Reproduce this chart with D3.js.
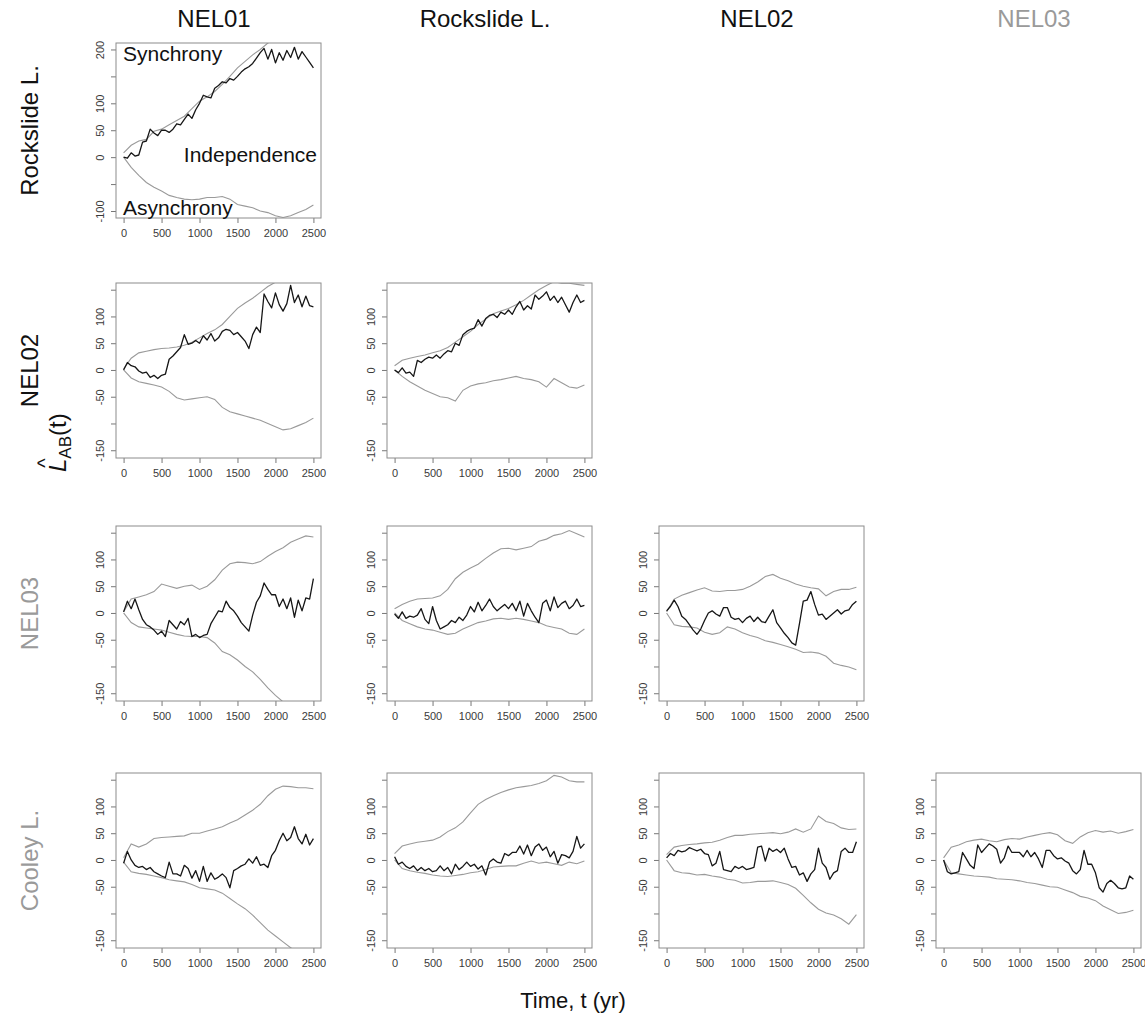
<!DOCTYPE html>
<html><head><meta charset="utf-8">
<script src="https://cdn.jsdelivr.net/npm/d3@7/dist/d3.min.js"></script>
<style>
body{margin:0;background:#fff}
svg{display:block}
text{font-family:"Liberation Sans",Arial,Helvetica,sans-serif}
</style>
</head><body>
<svg id="chart" width="1145" height="1018"></svg>
<script>
// ---------- categories ----------
const colNames = ["NEL01", "Rockslide L.", "NEL02", "NEL03"];
const rowNames = ["Rockslide L.", "NEL02", "NEL03", "Cooley L."];
const colGrey = [false, false, false, true];
const rowGrey = [false, false, true, true];

// ---------- time grids (yr) ----------
const tObs = [0,50,100,150,200,250,300,350,400,450,500,550,600,650,700,750,800,850,900,950,
  1000,1050,1100,1150,1200,1250,1300,1350,1400,1450,1500,1550,1600,1650,1700,1750,1800,1850,1900,1950,
  2000,2050,2100,2150,2200,2250,2300,2350,2400,2450,2500];
const tEnv = [0,100,200,300,400,500,600,700,800,900,1000,1100,1200,1300,1400,1500,1600,1700,1800,1900,
  2000,2100,2200,2300,2400,2500];

// ---------- ticks ----------
const xTicks = [0, 500, 1000, 1500, 2000, 2500];
const yTicksTop = [-100, -50, 0, 50, 100, 150, 200];
const yLabelsTop = [-100, 0, 50, 100, 200];
const yTicks = [-150, -100, -50, 0, 50, 100, 150];
const yLabels = [-150, -50, 0, 50, 100];

// ---------- series: observed L_AB(t) (black) and envelope (grey) ----------
// Row "Rockslide L." x col "NEL01"
const obs_RL_N1 = [0,-2,8,2,4,28,30,52,45,40,50,50,46,52,62,60,70,80,72,88,100,115,112,110,128,133,140,138,146,143,150,158,164,168,174,184,194,202,182,200,175,194,180,198,185,204,182,196,186,176,166];
const up_RL_N1  = [8,22,30,33,48,52,60,68,76,90,104,112,122,135,150,166,178,190,200,212,218,222,225,228,230,232];
const lo_RL_N1  = [0,-19,-34,-47,-56,-63,-71,-75,-78,-79,-78,-75,-75,-73,-78,-88,-91,-94,-100,-103,-109,-112,-109,-103,-97,-89];
// Row "NEL02" x col "NEL01"
const obs_N2_N1 = [0,14,8,6,-2,-6,-4,-14,-10,-16,-10,-8,20,26,34,42,66,48,50,55,50,64,56,68,54,60,72,76,74,66,70,62,54,40,66,80,70,142,128,116,144,122,110,124,158,126,140,118,138,120,118];
const up_N2_N1  = [2,22,32,35,38,40,41,43,46,52,60,68,75,85,100,115,125,134,145,156,164,168,170,172,172,170];
const lo_N2_N1  = [0,-15,-22,-25,-28,-32,-40,-52,-56,-54,-52,-50,-55,-70,-78,-82,-86,-90,-94,-100,-106,-112,-110,-104,-98,-90];
// Row "NEL02" x col "Rockslide L."
const obs_N2_RL = [0,-5,4,-6,-4,-12,18,14,20,24,22,28,22,30,36,34,50,46,66,72,76,78,94,82,96,102,104,98,108,104,112,104,118,128,112,120,114,140,132,138,146,130,138,126,136,122,108,126,140,126,130];
const up_N2_RL  = [8,18,22,25,28,32,36,42,52,62,72,85,95,105,110,115,122,130,140,150,158,165,162,162,160,158];
const lo_N2_RL  = [0,-12,-22,-30,-38,-44,-50,-52,-58,-38,-30,-26,-24,-20,-18,-15,-12,-16,-18,-22,-32,-16,-24,-32,-34,-28];
// Row "NEL03" x col "NEL01"
const obs_N3_N1 = [2,22,8,26,6,-12,-22,-26,-32,-40,-34,-44,-14,-22,-30,-16,-22,-10,-44,-40,-46,-42,-40,-20,-8,4,2,22,10,4,-6,-18,-26,-34,-4,20,32,56,44,34,34,12,26,8,28,-8,24,4,28,26,64];
const up_N3_N1  = [2,26,30,34,40,54,50,46,50,52,44,50,62,80,92,95,94,92,96,106,115,122,132,138,144,142];
const lo_N3_N1  = [0,-18,-26,-28,-30,-32,-36,-40,-43,-44,-44,-46,-56,-72,-78,-88,-100,-110,-124,-140,-154,-166,-176,-184,-190,-194];
// Row "NEL03" x col "Rockslide L."
const obs_N3_RL = [-2,-10,2,-10,-6,-8,-4,8,-12,-20,12,-14,-30,-26,-22,-14,-18,-8,-14,-4,12,2,20,4,14,26,12,4,10,16,8,18,4,22,-6,18,4,-8,-18,18,24,4,30,10,18,22,8,14,26,12,14];
const up_N3_RL  = [8,16,22,26,27,28,32,44,64,76,84,91,102,112,120,121,118,121,124,134,138,145,148,154,148,142];
const lo_N3_RL  = [0,-14,-20,-26,-30,-32,-36,-40,-38,-30,-24,-18,-15,-11,-10,-12,-10,-12,-15,-18,-24,-27,-30,-38,-40,-30];
// Row "NEL03" x col "NEL02"
const obs_N3_N2 = [4,12,24,12,-6,-12,-22,-32,-40,-30,-14,0,4,-2,-6,10,10,-8,-12,-10,-18,-10,-6,-16,-8,-16,-18,-6,6,-18,-28,-38,-46,-56,-60,-20,22,24,40,16,-4,-2,-12,-6,0,6,-2,4,6,16,22];
const up_N3_N2  = [2,26,33,38,43,47,41,40,42,42,44,50,58,68,72,65,60,54,50,47,45,32,40,44,44,48];
const lo_N3_N2  = [0,-22,-25,-26,-28,-36,-40,-37,-26,-30,-37,-42,-46,-52,-55,-59,-63,-68,-74,-73,-75,-81,-94,-98,-101,-106];
// Row "Cooley L." x col "NEL01"
const obs_CL_N1 = [-6,16,0,-10,-14,-12,-18,-14,-22,-26,-30,-33,-4,-26,-26,-30,-10,-16,-34,-20,-40,-12,-40,-24,-36,-32,-26,-33,-52,-20,-16,-11,-8,2,-6,6,-10,-8,-14,8,18,36,50,36,42,62,40,30,48,28,40];
const up_CL_N1  = [4,30,24,30,40,42,43,44,45,50,50,54,58,62,69,75,84,93,104,120,132,138,137,135,135,133];
const lo_CL_N1  = [-4,-22,-25,-27,-30,-33,-37,-39,-41,-46,-52,-54,-56,-62,-72,-82,-91,-103,-117,-131,-142,-153,-164,-172,-178,-182];
// Row "Cooley L." x col "Rockslide L."
const obs_CL_RL = [6,-8,-4,-12,-16,-11,-20,-14,-20,-16,-22,-20,-11,-20,-14,-26,-8,-18,-12,-4,-12,-8,-17,-11,-28,-4,2,-4,-6,12,8,14,14,26,11,28,8,24,30,18,24,6,16,-6,10,8,4,16,44,22,30];
const up_CL_RL  = [12,26,30,33,35,37,43,53,60,71,88,104,113,120,126,131,135,137,139,143,148,158,155,148,146,146];
const lo_CL_RL  = [0,-16,-20,-23,-25,-28,-30,-31,-29,-27,-24,-22,-18,-13,-12,-11,-11,-6,-2,-6,-4,-7,-10,-4,-7,-2];
// Row "Cooley L." x col "NEL02"
const obs_CL_N2 = [4,12,8,18,15,17,23,20,17,20,12,10,-11,-6,16,-18,-20,-22,-12,-16,-12,-18,-16,-14,24,26,-2,22,16,20,14,22,2,-14,-12,-28,-24,-40,-26,-18,22,-6,-14,-36,-24,-20,16,22,14,14,34];
const up_CL_N2  = [10,24,27,29,30,32,33,37,42,46,46,48,49,50,51,49,52,58,52,58,82,72,68,60,57,58];
const lo_CL_N2  = [0,-20,-24,-25,-28,-27,-30,-32,-36,-38,-43,-42,-40,-40,-39,-42,-46,-53,-66,-80,-92,-99,-103,-110,-120,-102];
// Row "Cooley L." x col "NEL03"
const obs_CL_N3 = [0,-22,-26,-24,-22,14,2,-10,-16,28,14,22,30,26,20,-6,4,26,14,14,14,6,18,6,14,2,-14,18,18,8,2,4,-2,-6,-20,-26,-18,18,-8,-8,-24,-52,-60,-44,-38,-44,-52,-54,-52,-30,-36];
const up_CL_N3  = [4,24,28,34,37,39,36,34,38,40,39,43,46,49,51,47,36,31,43,51,55,52,54,50,53,57];
const lo_CL_N3  = [0,-24,-26,-28,-30,-31,-32,-35,-36,-37,-39,-42,-44,-47,-50,-51,-56,-61,-68,-71,-76,-86,-93,-100,-98,-94];

// panel table built from the arrays above
const panels = [
  {r:0,c:0,obs:obs_RL_N1,up:up_RL_N1,lo:lo_RL_N1},
  {r:1,c:0,obs:obs_N2_N1,up:up_N2_N1,lo:lo_N2_N1},
  {r:1,c:1,obs:obs_N2_RL,up:up_N2_RL,lo:lo_N2_RL},
  {r:2,c:0,obs:obs_N3_N1,up:up_N3_N1,lo:lo_N3_N1},
  {r:2,c:1,obs:obs_N3_RL,up:up_N3_RL,lo:lo_N3_RL},
  {r:2,c:2,obs:obs_N3_N2,up:up_N3_N2,lo:lo_N3_N2},
  {r:3,c:0,obs:obs_CL_N1,up:up_CL_N1,lo:lo_CL_N1},
  {r:3,c:1,obs:obs_CL_RL,up:up_CL_RL,lo:lo_CL_RL},
  {r:3,c:2,obs:obs_CL_N2,up:up_CL_N2,lo:lo_CL_N2},
  {r:3,c:3,obs:obs_CL_N3,up:up_CL_N3,lo:lo_CL_N3}
];

// ---------- layout ----------
const colLeft = [116, 387, 659, 936];
const rowTop = [43, 283, 526, 773];
const PW = 205, PH = 175;
const xDom = [-100, 2600];
const yDomTop = [-113, 212];
const yDom = [-164.5, 162.5];

const svg = d3.select("#chart");
const BOX = "#8c8c8c", TICK = "#777", LAB = "#3a3a3a", GREYLINE = "#9a9a9a", BLACK = "#161616", GREYTXT = "#9a9a9a";
const FONT = '"Liberation Sans",Arial,sans-serif';

// headers
svg.selectAll("text.colhead").data(colNames).enter().append("text")
  .attr("class","colhead")
  .attr("x",(d,i)=>colLeft[i]+98).attr("y",27)
  .attr("text-anchor","middle").attr("font-size",24)
  .attr("fill",(d,i)=>colGrey[i]?GREYTXT:"#111").text(d=>d);

svg.selectAll("text.rowhead").data(rowNames).enter().append("text")
  .attr("class","rowhead")
  .attr("transform",(d,i)=>`translate(38,${rowTop[i]+PH/2}) rotate(-90)`)
  .attr("text-anchor","middle").attr("font-size",24)
  .attr("fill",(d,i)=>rowGrey[i]?GREYTXT:"#111").text(d=>d);

// y-axis title  L-hat_AB(t)
const yt = svg.append("g").attr("transform","translate(66,432) rotate(-90)");
const ytt = yt.append("text").attr("x",-40).attr("y",0).attr("font-size",24).attr("fill","#111");
ytt.append("tspan").attr("font-style","italic").text("L");
ytt.append("tspan").attr("font-size",17).attr("dy",5).text("AB");
ytt.append("tspan").attr("dy",-5).text("(t)");
yt.append("text").attr("x",-31).attr("y",-14).attr("text-anchor","middle").attr("font-size",20).attr("fill","#111").text("^");

// x-axis title
svg.append("text").attr("x",573).attr("y",1008).attr("text-anchor","middle")
  .attr("font-size",22).attr("fill","#111").text("Time, t (yr)");

const defs = svg.append("defs");

panels.forEach((p,k)=>{
  const L = colLeft[p.c], T = rowTop[p.r];
  const x = d3.scaleLinear().domain(xDom).range([L, L+PW]);
  const y = d3.scaleLinear().domain(p.r===0?yDomTop:yDom).range([T+PH, T]);
  const ticks = p.r===0?yTicksTop:yTicks;
  const shown = p.r===0?yLabelsTop:yLabels;

  defs.append("clipPath").attr("id","clip"+k).append("rect")
    .attr("x",L).attr("y",T).attr("width",PW).attr("height",PH);

  const g = svg.append("g");
  const plot = g.append("g").attr("clip-path",`url(#clip${k})`);
  const lineEnv = d3.line().x((d,i)=>x(tEnv[i])).y(d=>y(d));
  const lineObs = d3.line().x((d,i)=>x(tObs[i])).y(d=>y(d));
  plot.append("path").attr("d",lineEnv(p.up)).attr("fill","none").attr("stroke",GREYLINE).attr("stroke-width",1.1);
  plot.append("path").attr("d",lineEnv(p.lo)).attr("fill","none").attr("stroke",GREYLINE).attr("stroke-width",1.1);
  plot.append("path").attr("d",lineObs(p.obs)).attr("fill","none").attr("stroke",BLACK).attr("stroke-width",1.3).attr("stroke-linejoin","round");

  // y axis
  const ya = g.append("g").attr("transform",`translate(${L},0)`)
    .call(d3.axisLeft(y).tickValues(ticks).tickSize(5).tickFormat(d=>shown.includes(d)?String(d):""));
  ya.select(".domain").remove();
  ya.selectAll("line").attr("stroke",TICK);
  ya.selectAll("text").attr("transform","rotate(-90)").attr("x",0).attr("y",-12).attr("dy",0)
    .attr("text-anchor","middle").attr("font-size",11).attr("fill",LAB).attr("font-family",FONT);

  // x axis
  const xa = g.append("g").attr("transform",`translate(0,${T+PH})`)
    .call(d3.axisBottom(x).tickValues(xTicks).tickSize(5).tickPadding(6).tickFormat(d=>String(d)));
  xa.select(".domain").remove();
  xa.selectAll("line").attr("stroke",TICK);
  xa.selectAll("text").attr("font-size",11).attr("fill",LAB).attr("font-family",FONT);

  // box
  g.append("rect").attr("x",L).attr("y",T).attr("width",PW).attr("height",PH)
    .attr("fill","none").attr("stroke",BOX).attr("stroke-width",1);

  if (p.r===0 && p.c===0) {
    g.append("text").attr("x",L+7).attr("y",T+18).attr("font-size",21).attr("fill","#111").text("Synchrony");
    g.append("text").attr("x",L+PW-4).attr("y",T+119).attr("text-anchor","end").attr("font-size",21).attr("fill","#111").text("Independence");
    g.append("text").attr("x",L+7).attr("y",T+172).attr("font-size",21).attr("fill","#111").text("Asynchrony");
  }
});
</script>
</body></html>
